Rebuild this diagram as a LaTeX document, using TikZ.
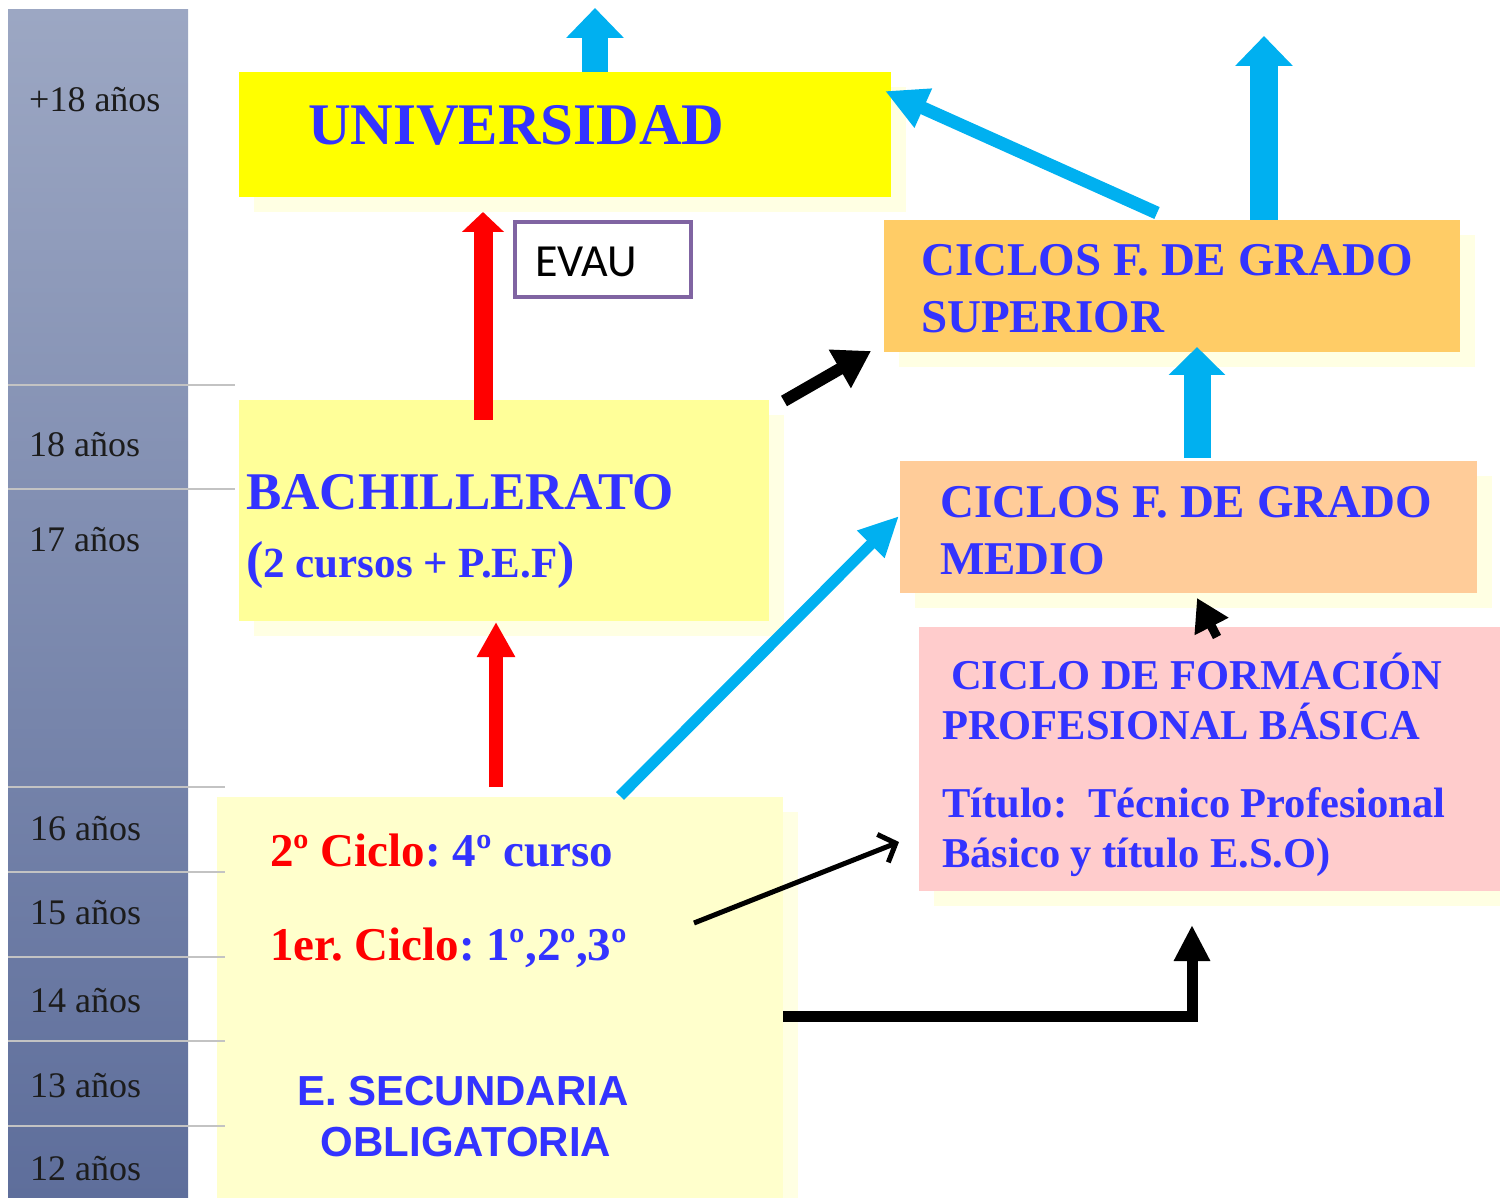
\documentclass[tikz,border=0pt]{standalone}
\usepackage{fontspec}
\setmainfont{Liberation Serif}
\newfontfamily\sansb{Liberation Sans}
\newfontfamily\evaufont{Carlito}
\usetikzlibrary{arrows.meta,calc}
\definecolor{tblue}{HTML}{3333FF}
\definecolor{tred}{HTML}{FF0000}
\definecolor{cyanarr}{HTML}{00B0F0}
\definecolor{uniyellow}{HTML}{FFFF00}
\definecolor{bachyellow}{HTML}{FFFF99}
\definecolor{cfgsorange}{HTML}{FFCC66}
\definecolor{cfgmorange}{HTML}{FFCC99}
\definecolor{cfpbpink}{HTML}{FFCCCC}
\definecolor{esoyellow}{HTML}{FFFFCC}
\definecolor{shadowc}{HTML}{FFFFE3}
\definecolor{evaupurple}{HTML}{8064A2}
\definecolor{bartop}{HTML}{9CA7C3}
\definecolor{barbot}{HTML}{5E6E9B}
\definecolor{divider}{HTML}{C3C3C3}
\definecolor{agetext}{HTML}{1C1C1C}
\newcommand\mybox[6]{%
  \fill[shadowc] (#2+15,#3+15) rectangle (#4+15,#5+15);
  \node[boxst, fill=#6, minimum width={(#4-#2)*1pt}, minimum height={(#5-#3)*1pt}] (#1) at (#2,#3) {};}
\tikzset{
  boxst/.style={draw=none, anchor=north west, inner sep=0pt, outer sep=0pt},
  age/.style={anchor=base west, inner sep=0pt, text=agetext, font=\fontsize{36}{40}\selectfont},
  btext/.style={anchor=base west, inner sep=0pt, text=tblue, font=\bfseries\fontsize{47}{50}\selectfont},
  ptext/.style={anchor=base west, inner sep=0pt, text=tblue, font=\bfseries\fontsize{42.5}{46}\selectfont},
  etext/.style={anchor=base west, inner sep=0pt, text=tblue, font=\bfseries\fontsize{47}{50}\selectfont},
  stext/.style={anchor=base, inner sep=0pt, text=tblue, font=\sansb\bfseries\fontsize{42}{46}\selectfont},
  divline/.style={draw=divider, line width=2},
  cyanblock/.style={draw=cyanarr, line width=27, -{Triangle[length=30pt,width=56pt]}},
}
\begin{document}
\frenchspacing
\begin{tikzpicture}[x=1pt,y=-1pt]
\useasboundingbox (0,0) rectangle (1500,1198);
% age bar
\shade[top color=bartop, bottom color=barbot] (8,10) rectangle (188,1198);
\node[age] (a18p) at (29,112) {+18 años};
\node[age] (a18) at (29,456) {18 años};
\node[age] (a17) at (29,551) {17 años};
\node[age] (a16) at (30,840) {16 años};
\node[age] (a15) at (30,924) {15 años};
\node[age] (a14) at (30,1012) {14 años};
\node[age] (a13) at (30,1097) {13 años};
\node[age] (a12) at (30,1180) {12 años};
% boxes
\mybox{uni}{239}{72}{891}{197}{uniyellow}
\mybox{bach}{239}{400}{769}{621}{bachyellow}
\mybox{cfgs}{884}{220}{1460}{352}{cfgsorange}
\mybox{cfgm}{900}{461}{1477}{593}{cfgmorange}
\mybox{cfpb}{919}{627}{1500}{891}{cfpbpink}
\mybox{eso}{217}{797}{783}{1198}{esoyellow}
\node[boxst, fill=white, draw=evaupurple, line width=4, minimum width=176pt, minimum height=75pt] (evau) at (515,222) {};
% age dividers
\foreach \yy/\xe in {385/235,489/235,787/225,872/225,957/225,1041/225,1126/225}
  \draw[divline] (8,\yy) -- (\xe,\yy);
% texts
\node[anchor=base west, inner sep=0pt, text=tblue, font=\bfseries\fontsize{59}{60}\selectfont] (tuni) at (308,145) {UNIVERSIDAD};
\node[anchor=base west, inner sep=0pt, font=\evaufont\fontsize{46}{48}\selectfont] (tevau) at (535,277) {EVAU};
\node[anchor=base west, inner sep=0pt, text=tblue, font=\bfseries\fontsize{53}{56}\selectfont] (tbach1) at (246,509) {BACHILLERATO};
\node[anchor=base west, inner sep=0pt, text=tblue, font=\bfseries\fontsize{43}{46}\selectfont] (tbach2) at (246,577) {{\fontsize{52}{52}\selectfont(}2 cursos + P.E.F{\fontsize{52}{52}\selectfont)}};
\node[btext] (tcfgs1) at (921,276) {CICLOS F. DE GRADO};
\node[btext] (tcfgs2) at (921,333) {SUPERIOR};
\node[btext] (tcfgm1) at (940,517) {CICLOS F. DE GRADO};
\node[btext] (tcfgm2) at (940,574) {MEDIO};
\node[ptext] (tcfpb1) at (951,689) {CICLO DE FORMACIÓN};
\node[ptext] (tcfpb2) at (942,739) {PROFESIONAL BÁSICA};
\node[ptext] (tcfpb3) at (942,817) {Título:~ Técnico Profesional};
\node[ptext] (tcfpb4) at (942,867) {Básico y título E.S.O)};
\node[etext] (teso1) at (270,866) {\textcolor{tred}{2º Ciclo}: 4º curso};
\node[etext] (teso2) at (270,960) {\textcolor{tred}{1er. Ciclo}: 1º,2º,3º};
\node[stext] (teso3) at (463,1105) {E. SECUNDARIA};
\node[stext] (teso4) at (466,1156) {OBLIGATORIA};
% arrow end points
\coordinate (u1) at (595,8);
\coordinate (b1s) at (483,420);
\coordinate (b1e) at (483,212);
\coordinate (e1s) at (496,787);
\coordinate (e1e) at (496,622);
\coordinate (bcs) at (784,401);
\coordinate (bce) at (871,351);
\coordinate (sus) at (1157,213);
\coordinate (sue) at (885,91);
\coordinate (s1) at (1264,36);
\coordinate (ms) at (1197,458);
\coordinate (me) at (1197,347);
\coordinate (ems) at (620,796);
\coordinate (eme) at (899,516);
\coordinate (ps) at (1217,637);
\coordinate (pe) at (1197,598);
\coordinate (ep1s) at (694,923);
\coordinate (ep1e) at (899,842);
\coordinate (ep2s) at (783,1016);
\coordinate (ep2e) at (1192,925);
% arrows
\draw[cyanblock, line width=26] (uni.north -| u1) -- (u1);
\draw[cyanblock, line width=28] (cfgs.north -| s1) -- (s1);
\draw[cyanblock, -{Triangle[length=28pt,width=55pt]}] (ms) -- (me);
\draw[draw=tred, line width=19, -{Triangle[length=20pt,width=41pt]}] (b1s) -- (b1e);
\draw[draw=tred, line width=14, -{Triangle[length=35pt,width=36pt]}] (e1s) -- (e1e);
\draw[draw=black, line width=12, -{Triangle[length=36pt,width=42pt]}] (bcs) -- (bce);
\draw[draw=cyanarr, line width=13, -{Triangle[length=42pt,width=40pt]}] (sus) -- (sue);
\draw[draw=cyanarr, line width=11, -{Triangle[length=40pt,width=36pt]}] (ems) -- (eme);
\draw[draw=black, line width=9, -{Triangle[length=32pt,width=36pt]}] (ps) -- (pe);
\draw[draw=black, line width=5, -{Straight Barb[length=14pt,width=30pt,line width=5pt]}] (ep1s) -- (ep1e);
\draw[draw=black, line width=11, line join=miter, -{Triangle[length=36pt,width=34pt]}] (ep2s) -| (ep2e);
\end{tikzpicture}
\end{document}
